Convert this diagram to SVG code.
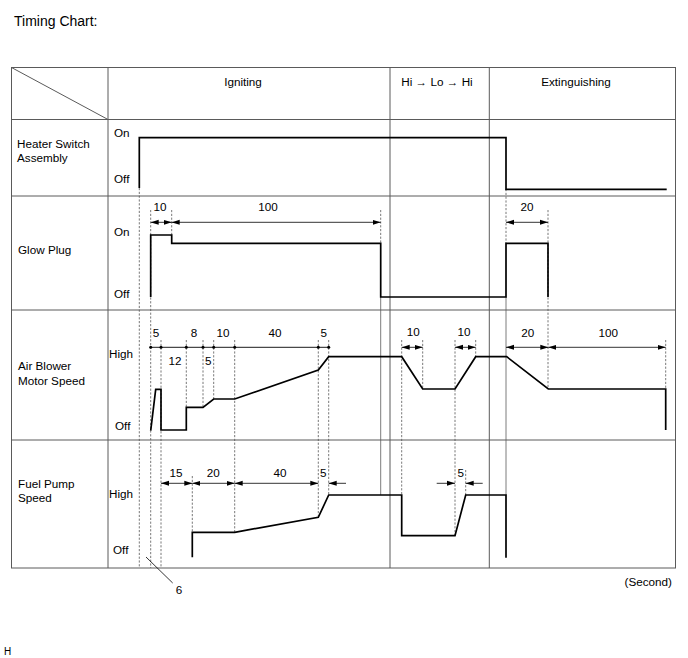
<svg xmlns="http://www.w3.org/2000/svg" width="688" height="658" viewBox="0 0 688 658">
<style>
text{font-family:"Liberation Sans",Arial,sans-serif;font-size:11.7px;fill:#000}
.c{text-anchor:middle}
.grid{stroke:#5a5a5a;stroke-width:1;fill:none}
.thin{stroke:#5a5a5a;stroke-width:0.8;fill:none}
.d{stroke:#555;stroke-width:0.8;stroke-dasharray:2.2,1.6;fill:none}
.w{stroke:#000;stroke-width:1.7;fill:none;stroke-linejoin:miter}
.dim{stroke:#000;stroke-width:0.8;fill:none;marker-start:url(#ah);marker-end:url(#ah)}
.one{stroke:#000;stroke-width:0.8;fill:none;marker-end:url(#ah)}
</style>
<defs>
<marker id="ah" viewBox="0 0 8 6" refX="8" refY="3" markerWidth="8" markerHeight="6" markerUnits="userSpaceOnUse" orient="auto-start-reverse">
<path d="M0,0.5 L8,3 L0,5.5 Z" fill="#000"/>
</marker>
</defs>
<rect width="688" height="658" fill="#fff"/>
<text x="14" y="26" style="font-size:14px">Timing Chart:</text>

<g id="table">
<rect class="grid" x="11.5" y="67.5" width="664" height="500.5"/>
<line class="grid" x1="108" y1="67.5" x2="108" y2="568"/>
<line class="grid" x1="390" y1="67.5" x2="390" y2="568"/>
<line class="grid" x1="489.3" y1="67.5" x2="489.3" y2="568"/>
<line class="grid" x1="11.5" y1="119.5" x2="675.5" y2="119.5"/>
<line class="grid" x1="11.5" y1="196" x2="675.5" y2="196"/>
<line class="grid" x1="11.5" y1="310" x2="675.5" y2="310"/>
<line class="grid" x1="11.5" y1="440" x2="675.5" y2="440"/>
<line class="grid" x1="11.5" y1="67.5" x2="108" y2="119.5"/>
<line class="thin" x1="380.7" y1="297" x2="380.7" y2="495"/>
<line class="thin" x1="506" y1="297" x2="506" y2="495"/>
</g>

<g id="headers">
<text class="c" x="243" y="85.5">Igniting</text>
<text class="c" x="437" y="86">Hi → Lo → Hi</text>
<text class="c" x="576" y="86">Extinguishing</text>
</g>

<g id="connectors">
<line class="d" x1="139.3" y1="188" x2="139.3" y2="568"/>
<line class="d" x1="150.7" y1="210" x2="150.7" y2="568"/>
<line class="d" x1="161" y1="340" x2="161" y2="568"/>
<line class="d" x1="171.7" y1="210" x2="171.7" y2="236"/>
<line class="d" x1="186.3" y1="340" x2="186.3" y2="407"/>
<line class="d" x1="192.3" y1="476" x2="192.3" y2="532"/>
<line class="d" x1="203" y1="340" x2="203" y2="407"/>
<line class="d" x1="213.7" y1="340" x2="213.7" y2="399"/>
<line class="d" x1="234.7" y1="340" x2="234.7" y2="532"/>
<line class="d" x1="318.3" y1="340" x2="318.3" y2="517"/>
<line class="d" x1="328.7" y1="340" x2="328.7" y2="495"/>
<line class="d" x1="380.7" y1="210" x2="380.7" y2="243"/>
<line class="d" x1="401.7" y1="340" x2="401.7" y2="495"/>
<line class="d" x1="422.7" y1="340" x2="422.7" y2="389"/>
<line class="d" x1="455" y1="340" x2="455" y2="535.7"/>
<line class="d" x1="465.7" y1="470" x2="465.7" y2="495"/>
<line class="d" x1="475.7" y1="340" x2="475.7" y2="357"/>
<line class="d" x1="506" y1="189" x2="506" y2="243"/>
<line class="d" x1="548" y1="210" x2="548" y2="389"/>
<line class="d" x1="665.7" y1="340" x2="665.7" y2="389"/>
<line class="dim" x1="150.7" y1="222.3" x2="171.7" y2="222.3"/>
<line class="dim" x1="171.7" y1="222.3" x2="380.7" y2="222.3"/>
<line class="dim" x1="506" y1="222.3" x2="548" y2="222.3"/>
<line stroke="#000" stroke-width="0.9" x1="150.7" y1="347.3" x2="328.7" y2="347.3"/>
<g fill="#000">
<circle cx="150.7" cy="347.3" r="1.5"/><circle cx="161" cy="347.3" r="1.5"/><circle cx="186.3" cy="347.3" r="1.5"/><circle cx="203" cy="347.3" r="1.5"/><circle cx="213.7" cy="347.3" r="1.5"/><circle cx="234.7" cy="347.3" r="1.5"/><circle cx="318.3" cy="347.3" r="1.5"/><circle cx="328.7" cy="347.3" r="1.5"/>
</g>
<line class="dim" x1="401.7" y1="347.3" x2="422.7" y2="347.3"/>
<line class="dim" x1="455" y1="347.3" x2="475.7" y2="347.3"/>
<line class="dim" x1="506" y1="347.3" x2="548.3" y2="347.3"/>
<line class="dim" x1="548.3" y1="347.3" x2="665.7" y2="347.3"/>
<line class="dim" x1="161" y1="483.3" x2="192.3" y2="483.3"/>
<line class="dim" x1="192.3" y1="483.3" x2="234.7" y2="483.3"/>
<line class="dim" x1="234.7" y1="483.3" x2="318.3" y2="483.3"/>
<line class="one" x1="346" y1="483.3" x2="328.7" y2="483.3"/>
<line class="one" x1="436.7" y1="483.3" x2="455" y2="483.3"/>
<line class="one" x1="482.7" y1="483.3" x2="465.7" y2="483.3"/>
<line stroke="#000" stroke-width="0.8" x1="146" y1="557" x2="172.7" y2="583"/>
</g>

<g id="heater-switch">
<text x="17" y="147.5">Heater Switch</text>
<text x="17" y="162">Assembly</text>
<text x="114" y="137">On</text>
<text x="114" y="182.5">Off</text>
<polyline class="w" points="139.3,188 139.3,137.7 506,137.7 506,189.3 666.7,189.3"/>
</g>

<g id="glow-plug">
<text x="18" y="254">Glow Plug</text>
<text x="114" y="236">On</text>
<text x="114" y="298">Off</text>
<text class="c" x="160" y="211">10</text>
<text class="c" x="268" y="211">100</text>
<text class="c" x="527" y="211">20</text>
<polyline class="w" points="150.7,297 150.7,235 171.7,235 171.7,243.3 380.7,243.3 380.7,297 506,297 506,243.3 548,243.3 548,297"/>
</g>

<g id="air-blower">
<text x="18" y="370">Air Blower</text>
<text x="18" y="384.5">Motor Speed</text>
<text x="109" y="357.5">High</text>
<text x="115" y="430">Off</text>
<text class="c" x="156" y="337">5</text>
<text class="c" x="194" y="337">8</text>
<text class="c" x="223" y="337">10</text>
<text class="c" x="275" y="337">40</text>
<text class="c" x="323.7" y="337">5</text>
<text class="c" x="175" y="365">12</text>
<text class="c" x="208.3" y="365">5</text>
<text class="c" x="413.3" y="336">10</text>
<text class="c" x="464" y="336">10</text>
<text class="c" x="527.7" y="337">20</text>
<text class="c" x="608.3" y="337">100</text>
<polyline class="w" points="150.7,430.7 155.7,389.3 161,389.3 161,430 186.3,430 186.3,407.3 203,407.3 213.7,399 234.7,399 318.3,370 328.7,356.7 401.7,356.7 422.7,389 455,389 475.7,356.7 506.7,356.7 548.3,389 665.7,389 665.7,430"/>
</g>

<g id="fuel-pump">
<text x="18" y="487.5">Fuel Pump</text>
<text x="18" y="502">Speed</text>
<text x="109" y="497.5">High</text>
<text x="113" y="553.5">Off</text>
<text class="c" x="176" y="476.5">15</text>
<text class="c" x="213.3" y="476.5">20</text>
<text class="c" x="280" y="476.5">40</text>
<text class="c" x="323.3" y="476.5">5</text>
<text class="c" x="460.7" y="476.5">5</text>
<polyline class="w" points="192.3,557.3 192.3,532.3 234.7,532.3 318.3,517.3 328.7,495 401.7,495 401.7,535.7 455,535.7 465.7,495 506,495 506,557.7"/>
</g>

<text class="c" x="179" y="594">6</text>
<text x="672" y="586" style="text-anchor:end">(Second)</text>
<text x="4" y="655" style="font-size:10px">H</text>
</svg>
